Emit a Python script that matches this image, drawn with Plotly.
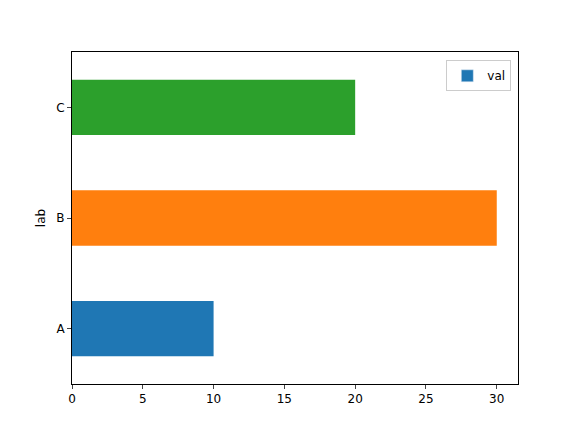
import plotly.graph_objects as go

labels = ["A", "B", "C"]
values = [10, 30, 20]
colors = ["#1f77b4", "#ff7f0e", "#2ca02c"]

fig = go.Figure()
fig.add_trace(go.Bar(x=values, y=labels, orientation="h", width=0.5,
                     marker=dict(color=colors, line=dict(width=0)), showlegend=False))
fig.add_trace(go.Bar(x=[None], y=[None], orientation="h", name="val",
                     marker=dict(color=colors[0]), showlegend=True))
fig.update_layout(
    width=576, height=432, paper_bgcolor="white", plot_bgcolor="white",
    margin=dict(l=64, r=66, t=44, b=56),
    font=dict(family="DejaVu Sans", size=12, color="black"),
    showlegend=True,
    legend=dict(x=0.985, y=0.975, xanchor="right", yanchor="top",
                bordercolor="#cccccc", borderwidth=1, bgcolor="white",
                font=dict(size=12)),
    bargap=0.5,
)
fig.update_xaxes(range=[0, 31.5], tickvals=[0, 5, 10, 15, 20, 25, 30],
                 showline=True, linecolor="black", linewidth=1, mirror=True,
                 ticks="outside", ticklen=4, showgrid=False, zeroline=False)
fig.update_yaxes(range=[-0.5, 2.5], type="category", categoryorder="array", categoryarray=labels,
                 showline=True, linecolor="black", linewidth=1, mirror=True,
                 ticks="outside", ticklen=4, showgrid=False, zeroline=False,
                 title=dict(text="lab", standoff=8, font=dict(size=12)))
fig.write_html("out.html")
